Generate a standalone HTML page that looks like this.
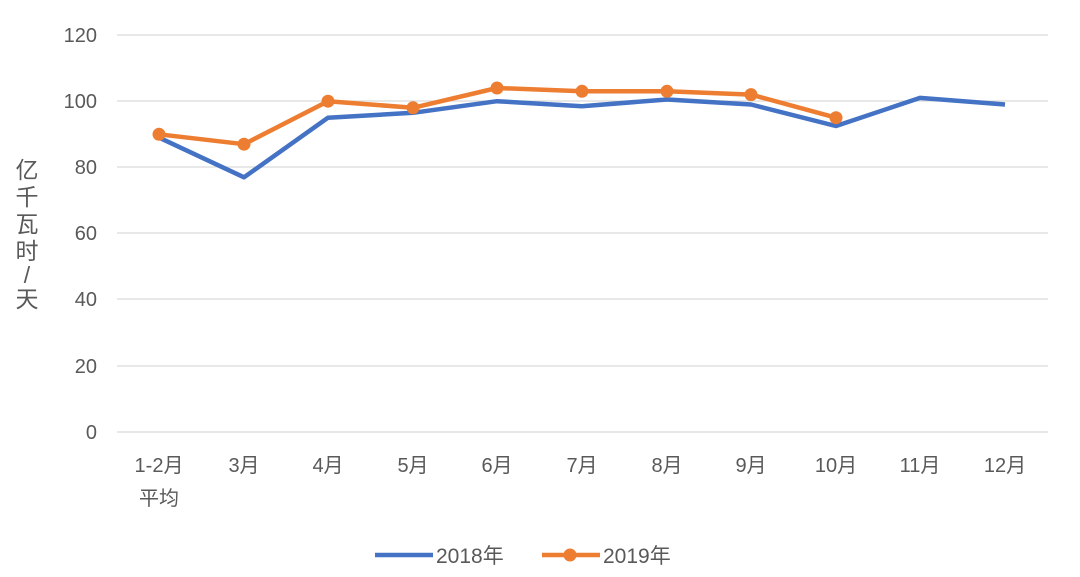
<!DOCTYPE html>
<html><head><meta charset="utf-8"><style>body{margin:0;background:#fff}svg{display:block}text{font-family:"Liberation Sans","Noto Sans CJK SC",sans-serif;fill:#595959}</style></head>
<body><svg width="1080" height="577" viewBox="0 0 1080 577">
<g stroke="#d9d9d9" stroke-width="1.3">
<line x1="117" x2="1048" y1="35" y2="35"/><line x1="117" x2="1048" y1="101" y2="101"/><line x1="117" x2="1048" y1="167" y2="167"/><line x1="117" x2="1048" y1="233" y2="233"/><line x1="117" x2="1048" y1="299" y2="299"/><line x1="117" x2="1048" y1="366" y2="366"/><line x1="117" x2="1048" y1="432" y2="432"/>
</g>
<g font-size="20" text-anchor="end">
<text x="97" y="42">120</text><text x="97" y="108">100</text><text x="97" y="174">80</text><text x="97" y="240">60</text><text x="97" y="306">40</text><text x="97" y="373">20</text><text x="97" y="439">0</text>
</g>
<g font-size="23" text-anchor="middle">
<text x="27" y="178">亿</text><text x="27" y="205">千</text><text x="27" y="232">瓦</text><text x="27" y="259">时</text><text x="27" y="283">/</text><text x="27" y="307">天</text>
</g>
<g font-size="20" text-anchor="middle">
<text x="159" y="472">1-2月</text><text x="159" y="505">平均</text><text x="244" y="472">3月</text><text x="328" y="472">4月</text><text x="413" y="472">5月</text><text x="497" y="472">6月</text><text x="582" y="472">7月</text><text x="667" y="472">8月</text><text x="751" y="472">9月</text><text x="836" y="472">10月</text><text x="920" y="472">11月</text><text x="1005" y="472">12月</text>
</g>
<polyline fill="none" stroke="#4472c4" stroke-width="4.5" stroke-linejoin="round" points="159,137.6 244,177.3 328,117.7 413,112.8 497,101.2 582,106.2 667,99.5 751,104.5 836,126 920,97.9 1005,104.5"/>
<polyline fill="none" stroke="#ed7d31" stroke-width="4.5" stroke-linejoin="round" points="159,134.3 244,144.2 328,101.2 413,107.8 497,88 582,91.3 667,91.3 751,94.6 836,117.7"/>
<g fill="#ed7d31">
<circle cx="159" cy="134.3" r="6.5"/><circle cx="244" cy="144.2" r="6.5"/><circle cx="328" cy="101.2" r="6.5"/><circle cx="413" cy="107.8" r="6.5"/><circle cx="497" cy="88" r="6.5"/><circle cx="582" cy="91.3" r="6.5"/><circle cx="667" cy="91.3" r="6.5"/><circle cx="751" cy="94.6" r="6.5"/><circle cx="836" cy="117.7" r="6.5"/>
</g>
<line x1="375" x2="433" y1="555" y2="555" stroke="#4472c4" stroke-width="4.5"/>
<text x="436" y="563" font-size="21">2018年</text>
<line x1="542" x2="600" y1="555" y2="555" stroke="#ed7d31" stroke-width="4.5"/>
<circle cx="570" cy="555" r="6.5" fill="#ed7d31"/>
<text x="603" y="563" font-size="21">2019年</text>
</svg></body></html>
